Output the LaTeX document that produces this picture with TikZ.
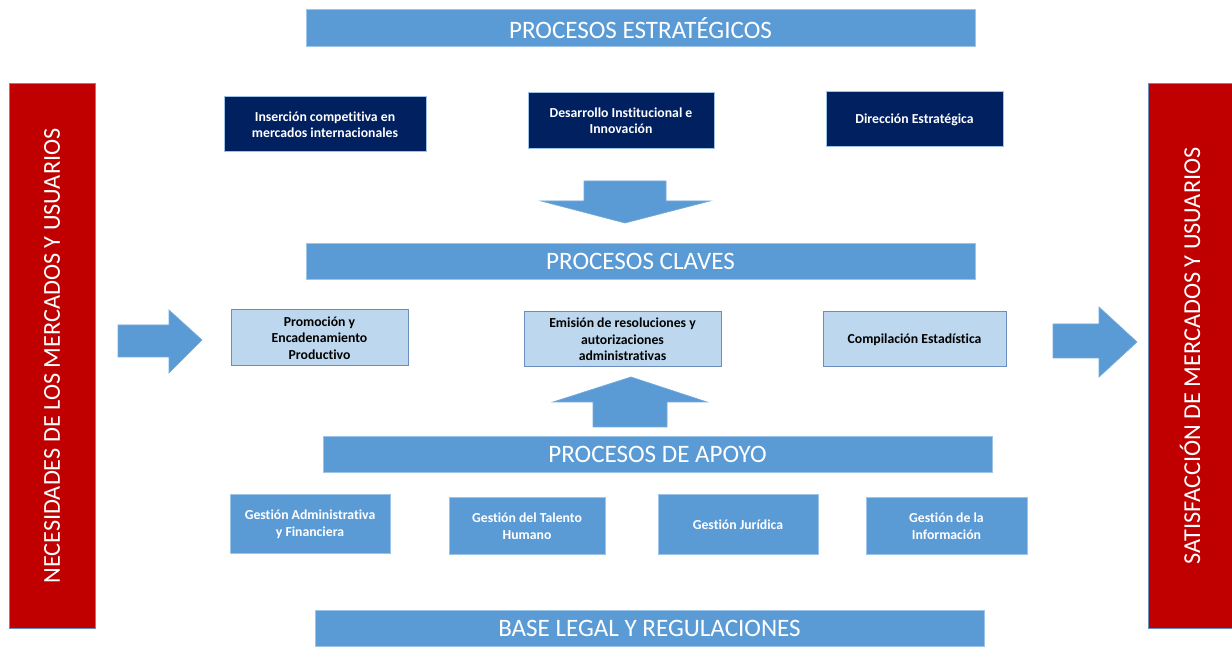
\documentclass[tikz,border=0pt]{standalone}
\usepackage{fontspec}
\setmainfont{Carlito}[Ligatures=NoCommon]
\usetikzlibrary{positioning}
\definecolor{barblue}{HTML}{5B9BD5}
\definecolor{edgeblue}{HTML}{9DC3E6}
\definecolor{navy}{HTML}{002060}
\definecolor{paleblue}{HTML}{BDD7EE}
\definecolor{greyblue}{HTML}{6C8EBF}
\definecolor{deepred}{HTML}{C00000}
\tikzset{
bar/.style={fill=barblue, draw=edgeblue, line width=0.75pt, text=white, minimum width=501.75pt, minimum height=27.4pt, inner sep=0pt, font=\fontsize{18.8}{22}\selectfont}, % the four wide bars
side/.style={fill=deepred, draw=greyblue, line width=0.75pt, text=white, rotate=90, minimum width=408pt, inner sep=0pt, font=\fontsize{18.2}{22}\selectfont}, % the red columns
strat/.style={fill=navy, draw=edgeblue, line width=0.75pt, text=white, align=center, inner sep=0pt, font=\bfseries\fontsize{10.3}{12}\selectfont},
key/.style={fill=paleblue, draw=greyblue, line width=0.75pt, text=black, align=center, inner sep=0pt, font=\bfseries\fontsize{10.3}{12.2}\selectfont},
support/.style={fill=barblue, draw=edgeblue, line width=0.75pt, text=white, align=center, inner sep=0pt, font=\bfseries\fontsize{10.3}{12.4}\selectfont},
blockarrow/.style={fill=barblue, draw=barblue!85!white, line width=0.5pt, line join=miter},
}
\begin{document}
\begin{tikzpicture}[x=0.75pt, y=-0.75pt]
\useasboundingbox (0,0) rectangle (1232,648);
% bars
\node[bar] (estrategicos) at (640.5,28) {PROCESOS ESTRATÉGICOS};
\node[bar] (claves) at (640.5,261.5) {PROCESOS CLAVES};
\node[bar] (apoyo) at (657.5,454.5) {PROCESOS DE APOYO};
\node[bar] (base) at (649.5,628.5) {BASE LEGAL Y REGULACIONES};
% red columns
\node[side, minimum height=64.5pt] (necesidades) at (52,356) {NECESIDADES DE LOS MERCADOS Y USUARIOS};
\node[side, minimum height=63pt] (satisfaccion) at (1190,356) {SATISFACCIÓN DE MERCADOS Y USUARIOS};
% strategic processes
\node[strat, minimum width=151.5pt, minimum height=41.25pt] (insercion) at (325,124.5) {Inserción competitiva en\\mercados internacionales};
\node[strat, minimum width=139.5pt, minimum height=42pt] (desarrollo) at (621,121) {Desarrollo Institucional e\\Innovación};
\node[strat, minimum width=132.75pt, minimum height=41.25pt] (direccion) at (914.5,119.5) {Dirección Estratégica};
% key processes
\node[key, minimum width=132.75pt, minimum height=42pt] (promocion) at (319.5,338) {Promoción y\\Encadenamiento\\Productivo};
\node[key, minimum width=147.75pt, minimum height=41.25pt] (emision) at (622.5,339.5) {Emisión de resoluciones y\\autorizaciones\\administrativas};
\node[key, minimum width=137.25pt, minimum height=41.25pt] (compilacion) at (914.5,339.5) {Compilación Estadística};
% support processes
\node[support, minimum width=120pt, minimum height=43.5pt] (administrativa) at (310,524) {Gestión Administrativa\\y Financiera};
\node[support, minimum width=117pt, minimum height=42pt] (talento) at (527,526) {Gestión del Talento\\Humano};
\node[support, minimum width=120pt, minimum height=44.25pt] (juridica) at (738,524.5) {Gestión Jurídica};
\node[support, minimum width=120.75pt, minimum height=42pt] (informacion) at (946.5,526) {Gestión de la\\Información};
% block arrows
\filldraw[blockarrow] (584,181) -- (666,181) -- (666,201) -- (710,201) -- (625,223) -- (541,201) -- (584,201) -- cycle;
\filldraw[blockarrow] (593,427) -- (593,402) -- (553,402) -- (631,377) -- (707,402) -- (667,402) -- (667,427) -- cycle;
\filldraw[blockarrow] (118,325) -- (169,325) -- (169,310) -- (202,340) -- (169,373) -- (169,357) -- (118,357) -- cycle;
\filldraw[blockarrow] (1053,324) -- (1099,324) -- (1099,307) -- (1137,342) -- (1099,377) -- (1099,358) -- (1053,358) -- cycle;
\end{tikzpicture}
\end{document}
